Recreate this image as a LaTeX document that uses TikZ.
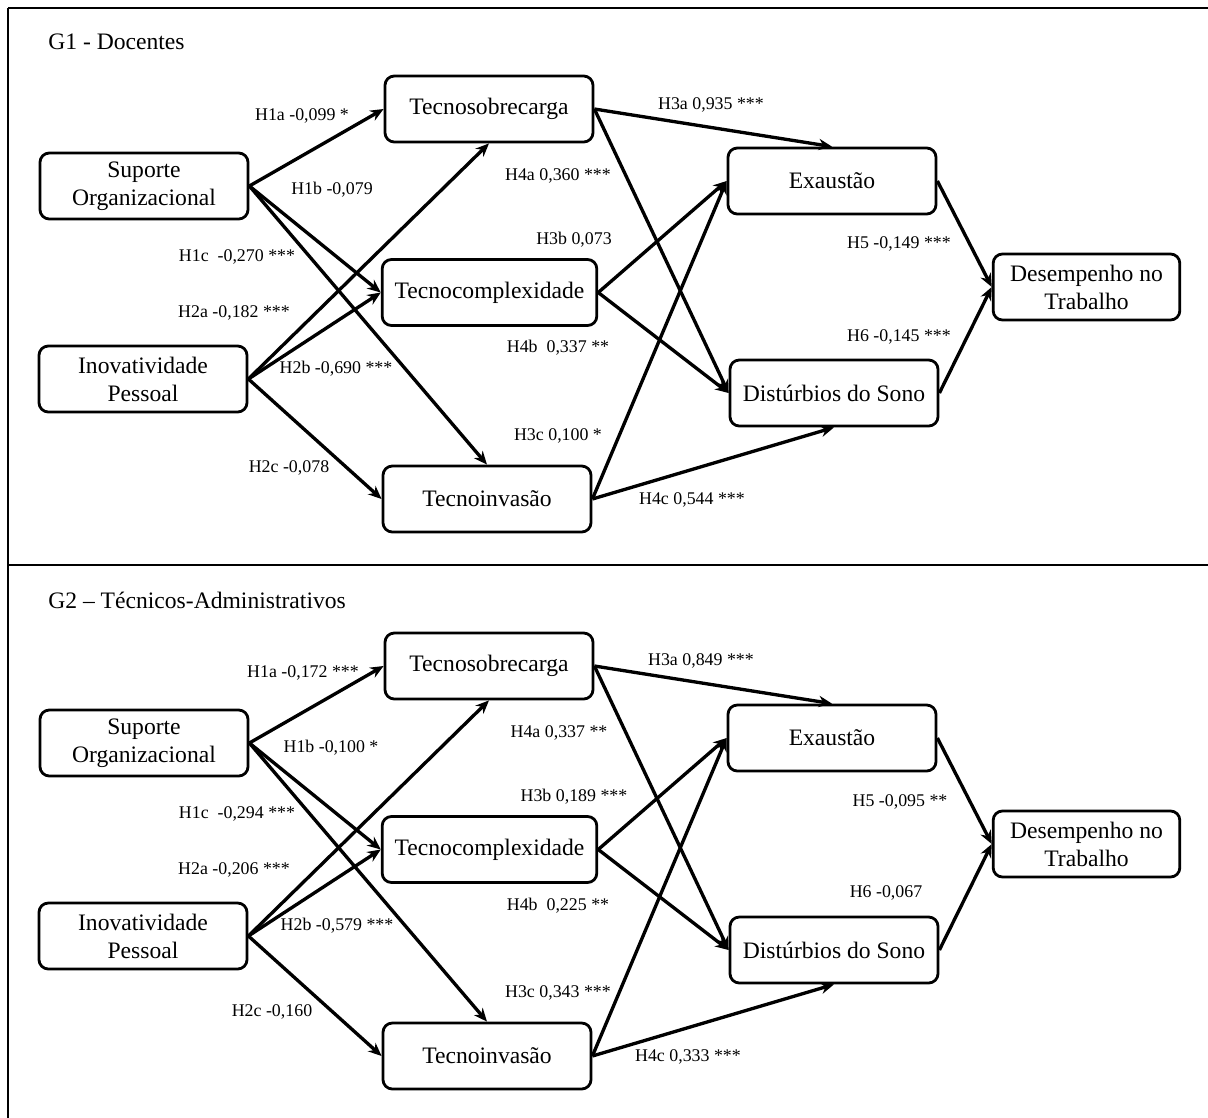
\documentclass[tikz,border=0pt]{standalone}
\usepackage{fontspec}
\setmainfont{Liberation Serif}
\usetikzlibrary{arrows.meta}
\newcommand\boxfont{\fontsize{17.7}{21}\selectfont}
\newcommand\labfont{\fontsize{13.4}{16}\selectfont}
\tikzset{
  box/.style={draw, line width=2.1pt, rounded corners=7pt, minimum width=156pt,
    minimum height=49.5pt, align=center, font=\boxfont, inner sep=0pt},
  arr/.style={line width=2.5pt, -{Stealth[length=10pt,width=8.5pt]}},
  lab/.style={font=\labfont, inner sep=0pt},
  ttl/.style={font=\boxfont, anchor=west, inner sep=0pt},
  frame/.style={line width=2.2pt}
}
\begin{document}
\begin{tikzpicture}[x=0.75pt,y=-0.75pt]
\useasboundingbox (0,0) rectangle (1208,1118);
% frame
\draw[frame] (8,8) -- (1208,8);
\draw[line width=1.6pt] (8,8) -- (8,1118);
\draw[frame] (8,565) -- (1208,565);

% ===== G1 =====
\node[ttl] (t1) at (48,42) {G1 - Docentes};
\node[box] (su1) at (144,186) {Suporte\\Organizacional};
\node[box] (in1) at (143,379) {Inovatividade\\Pessoal};
\node[box] (ts1) at (489,109) {Tecnosobrecarga};
\node[box, minimum width=161pt] (tc1) at (489.5,292.5) {Tecnocomplexidade};
\node[box] (ti1) at (487,499) {Tecnoinvasão};
\node[box] (ex1) at (832,181) {Exaustão};
\node[box] (ds1) at (834,393) {Distúrbios do Sono};
\node[box, minimum width=140pt] (de1) at (1086.5,287) {Desempenho no\\Trabalho};

\draw[arr] (su1.east) -- (ts1.west);
\draw[arr] (su1.east) -- (tc1.west);
\draw[arr] (su1.east) -- (ti1.north);
\draw[arr] (in1.east) -- (ts1.south);
\draw[arr] (in1.east) -- (tc1.west);
\draw[arr] (in1.east) -- (ti1.west);
\draw[arr] (ts1.east) -- (ex1.north);
\draw[arr] (ts1.east) -- (ds1.west);
\draw[arr] (tc1.east) -- (ex1.west);
\draw[arr] (tc1.east) -- (ds1.west);
\draw[arr] (ti1.east) -- (ex1.west);
\draw[arr] (ti1.east) -- (ds1.south);
\draw[arr] (ex1.east) -- (de1.west);
\draw[arr] (ds1.east) -- (de1.west);

\node[lab] (l1a1) at (302,116) {H1a -0,099 *};
\node[lab] (l1b1) at (332,190) {H1b -0,079};
\node[lab] (l1c1) at (237,257) {H1c\ \ -0,270 ***};
\node[lab] (l2a1) at (234,313) {H2a -0,182 ***};
\node[lab] (l2b1) at (336,369) {H2b -0,690 ***};
\node[lab] (l2c1) at (289,468) {H2c -0,078};
\node[lab] (l3a1) at (711,105) {H3a 0,935 ***};
\node[lab] (l4a1) at (558,176) {H4a 0,360 ***};
\node[lab] (l3b1) at (574,240) {H3b 0,073};
\node[lab] (l4b1) at (558,348) {H4b\ \ 0,337 **};
\node[lab] (l3c1) at (558,436) {H3c 0,100 *};
\node[lab] (l4c1) at (692,500) {H4c 0,544 ***};
\node[lab] (l51) at (899,244) {H5 -0,149 ***};
\node[lab] (l61) at (899,337) {H6 -0,145 ***};

% ===== G2 =====
\node[ttl] (t2) at (48,600) {G2 – Técnicos-Administrativos};
\node[box] (su2) at (144,743) {Suporte\\Organizacional};
\node[box] (in2) at (143,936) {Inovatividade\\Pessoal};
\node[box] (ts2) at (489,666) {Tecnosobrecarga};
\node[box, minimum width=161pt] (tc2) at (489.5,849.5) {Tecnocomplexidade};
\node[box] (ti2) at (487,1056) {Tecnoinvasão};
\node[box] (ex2) at (832,738) {Exaustão};
\node[box] (ds2) at (834,950) {Distúrbios do Sono};
\node[box, minimum width=140pt] (de2) at (1086.5,844) {Desempenho no\\Trabalho};

\draw[arr] (su2.east) -- (ts2.west);
\draw[arr] (su2.east) -- (tc2.west);
\draw[arr] (su2.east) -- (ti2.north);
\draw[arr] (in2.east) -- (ts2.south);
\draw[arr] (in2.east) -- (tc2.west);
\draw[arr] (in2.east) -- (ti2.west);
\draw[arr] (ts2.east) -- (ex2.north);
\draw[arr] (ts2.east) -- (ds2.west);
\draw[arr] (tc2.east) -- (ex2.west);
\draw[arr] (tc2.east) -- (ds2.west);
\draw[arr] (ti2.east) -- (ex2.west);
\draw[arr] (ti2.east) -- (ds2.south);
\draw[arr] (ex2.east) -- (de2.west);
\draw[arr] (ds2.east) -- (de2.west);

\node[lab] (l1a2) at (303,673) {H1a -0,172 ***};
\node[lab] (l1b2) at (331,748) {H1b -0,100 *};
\node[lab] (l1c2) at (237,814) {H1c\ \ -0,294 ***};
\node[lab] (l2a2) at (234,870) {H2a -0,206 ***};
\node[lab] (l2b2) at (337,926) {H2b -0,579 ***};
\node[lab] (l2c2) at (272,1012) {H2c -0,160};
\node[lab] (l3a2) at (701,661) {H3a 0,849 ***};
\node[lab] (l4a2) at (559,733) {H4a 0,337 **};
\node[lab] (l3b2) at (574,797) {H3b 0,189 ***};
\node[lab] (l4b2) at (558,906) {H4b\ \ 0,225 **};
\node[lab] (l3c2) at (558,993) {H3c 0,343 ***};
\node[lab] (l4c2) at (688,1057) {H4c 0,333 ***};
\node[lab] (l52) at (900,802) {H5 -0,095 **};
\node[lab] (l62) at (886,893) {H6 -0,067};
\end{tikzpicture}
\end{document}
